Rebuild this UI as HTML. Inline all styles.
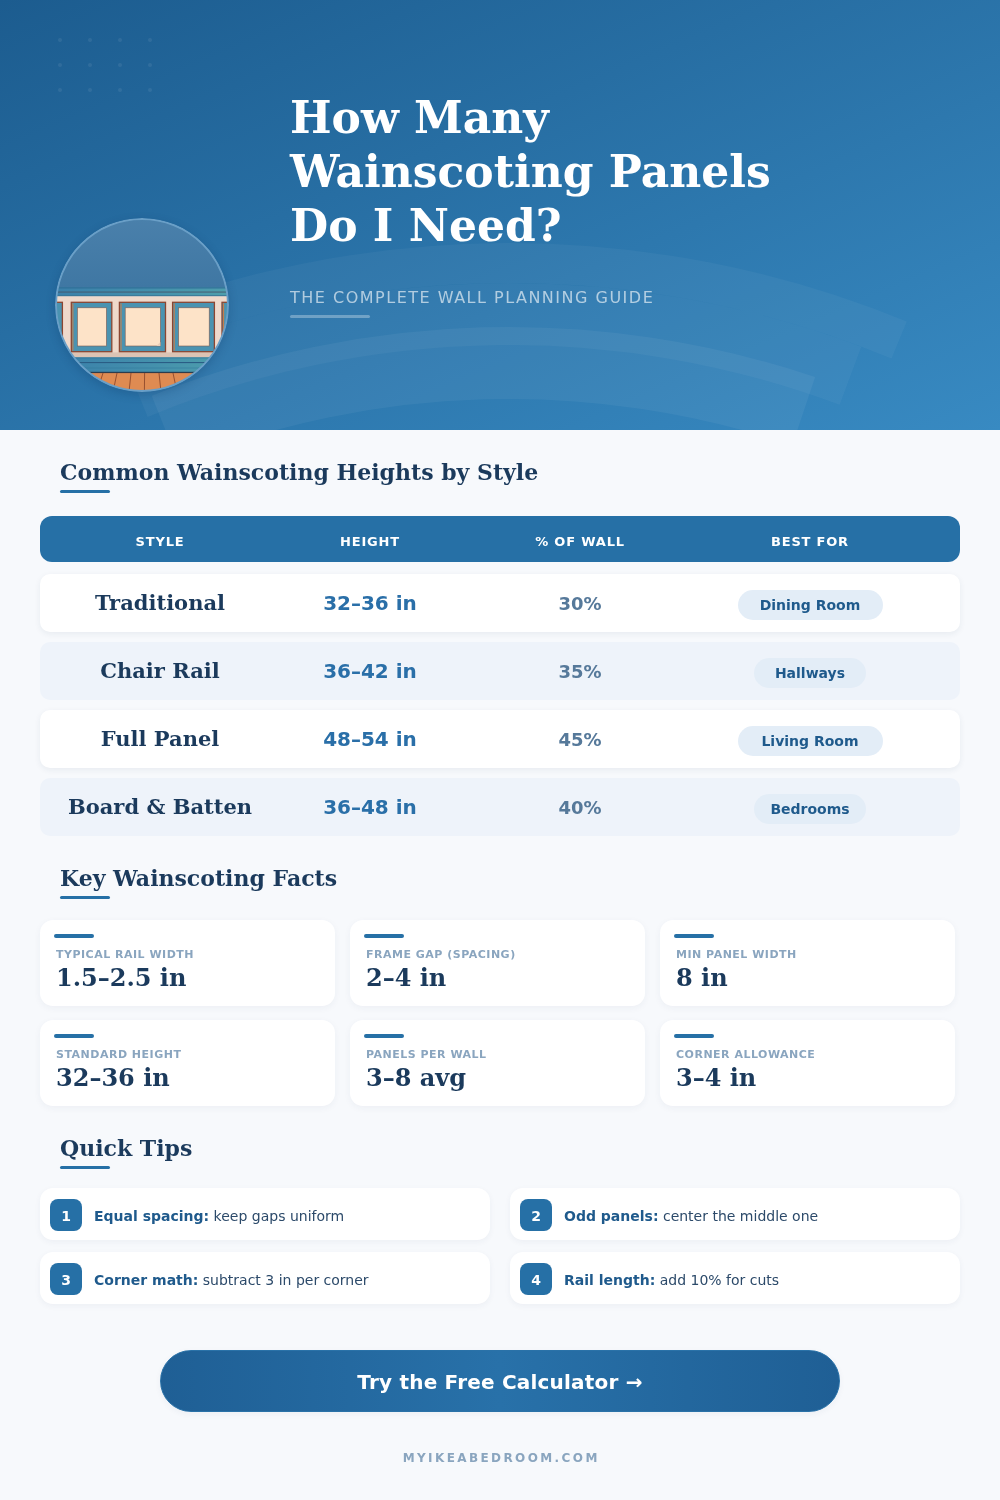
<!DOCTYPE html>
<html lang="en">
<head>
<meta charset="utf-8">
<title>How Many Wainscoting Panels Do I Need?</title>
<style>
*{box-sizing:border-box;margin:0;padding:0}
html,body{width:1000px;height:1500px;overflow:hidden}
body{position:relative;background:#f7f9fc;font-family:"DejaVu Sans","Liberation Sans",sans-serif;color:#1b3a5c}
.serif{font-family:"DejaVu Serif","Liberation Serif",serif;font-weight:bold}
.abs{position:absolute}
/* header */
#hero{position:absolute;left:0;top:0;width:1000px;height:430px;overflow:hidden;
 background:linear-gradient(to bottom right,#1c5c8f 0%,#388ac2 100%)}
#hero svg.bg{position:absolute;left:0;top:0}
#title{position:absolute;left:290px;top:91px;font-size:44px;line-height:54px;color:#fff;white-space:nowrap}
#sub{position:absolute;left:290px;top:288px;font-size:16px;line-height:20px;letter-spacing:1.5px;color:rgba(255,255,255,.62);white-space:nowrap}
#subline{position:absolute;left:290px;top:315px;width:80px;height:3px;border-radius:2px;background:rgba(255,255,255,.3)}
#circle{position:absolute;left:55px;top:218px;width:174px;height:174px;border-radius:50%;box-shadow:0 3px 10px rgba(10,40,80,.22)}
/* section heads */
.sh{position:absolute;left:60px;font-size:22px;line-height:28px;color:#1b3a5c;white-space:nowrap}
.ul{position:absolute;left:60px;width:50px;height:3px;margin-top:1.4px;border-radius:2px;background:#2670a6}
/* table */
#thead{position:absolute;left:40px;top:516px;width:920px;height:46px;border-radius:12px;background:#2670a6}
.th{position:absolute;top:0;width:200px;margin-left:-100px;text-align:center;line-height:52px;font-size:13px;font-weight:bold;letter-spacing:.8px;color:#fff}
.row{position:absolute;left:40px;width:920px;height:58px;border-radius:10px}
.row.w{background:#fff;box-shadow:0 2px 6px rgba(30,58,92,.07)}
.row.b{background:#eef3fa}
.c{position:absolute;top:0;width:260px;margin-left:-130px;text-align:center;white-space:nowrap;line-height:58px}
.c1{left:120px;font-size:21px;color:#1b3a5c}
.c2{left:330px;font-size:20px;font-weight:bold;color:#2a6fa8}
.c3{left:540px;font-size:18px;font-weight:bold;color:#56799a;line-height:60px}
.c4{left:770px}
.pill{display:inline-block;height:30px;line-height:30px;border-radius:15px;background:#e3edf7;color:#1f5a8c;font-size:14px;font-weight:bold;padding:0;text-align:center;width:145px;vertical-align:middle;position:relative;top:1px}
/* fact cards */
.card{position:absolute;width:295px;height:86px;border-radius:13px;background:#fff;box-shadow:0 2px 7px rgba(30,58,92,.05)}
.card i{position:absolute;left:14px;top:14px;width:40px;height:4px;border-radius:2px;background:#2670a6}
.card b{position:absolute;left:16px;top:27px;font-size:11px;line-height:16px;letter-spacing:.5px;color:#8aa5bf;white-space:nowrap}
.card span{position:absolute;left:16px;top:41px;font-size:24px;line-height:34px;color:#1b3a5c;white-space:nowrap}
/* tips */
.tip{position:absolute;width:450px;height:52px;border-radius:13px;background:#fff;box-shadow:0 2px 6px rgba(30,58,92,.05)}
.tip i{position:absolute;left:10px;top:11px;width:32px;height:32px;border-radius:8px;background:#2670a6;color:#fff;font-style:normal;font-weight:bold;font-size:14px;line-height:34px;text-align:center}
.tip p{position:absolute;left:54px;top:0;line-height:56px;font-size:14px;color:#2c4a6a;white-space:nowrap}
.tip p b{color:#1f5a8c}
/* cta */
#cta{position:absolute;left:160px;top:1350px;width:680px;height:62px;border-radius:31px;border:1.5px solid #2a72a8;
 background:linear-gradient(90deg,#1f5f95 0%,#2871a9 50%,#1f5f95 100%);color:#fff;font-weight:bold;font-size:20px;letter-spacing:.2px;text-align:center;line-height:62px;box-shadow:0 2px 6px rgba(30,58,92,.05)}
#foot{position:absolute;left:0;top:1450px;width:1000px;padding-left:2.4px;text-align:center;font-size:12px;line-height:16px;font-weight:bold;letter-spacing:2.4px;color:#8aa5bf}
</style>
</head>
<body>
<div id="hero">
<svg class="bg" width="1000" height="430" viewBox="0 0 1000 430">
<g fill="#fff" fill-opacity=".075"><circle cx="60" cy="40" r="2"/><circle cx="90" cy="40" r="2"/><circle cx="120" cy="40" r="2"/><circle cx="150" cy="40" r="2"/><circle cx="60" cy="65" r="2"/><circle cx="90" cy="65" r="2"/><circle cx="120" cy="65" r="2"/><circle cx="150" cy="65" r="2"/><circle cx="60" cy="90" r="2"/><circle cx="90" cy="90" r="2"/><circle cx="120" cy="90" r="2"/><circle cx="150" cy="90" r="2"/></g>
<path d="M100.3 326.2A1046 1046 0 0 1 906.8 321.6L891.5 358.6A1006 1006 0 0 0 115.9 363.0Z" fill="#fff" fill-opacity="0.04"/>
<path d="M124.0 359.6A1006 1006 0 0 1 861.3 346.7L839.6 404.8A944 944 0 0 0 147.7 416.9Z" fill="#fff" fill-opacity="0.04"/>
<path d="M151.7 395.8A962 962 0 0 1 815.2 377.0L792.3 445.3A890 890 0 0 0 178.5 462.6Z" fill="#fff" fill-opacity="0.05"/>
</svg>
<div id="title" class="serif">How Many<br>Wainscoting Panels<br>Do I Need?</div>
<div id="sub">THE COMPLETE WALL PLANNING GUIDE</div>
<div id="subline"></div>
<svg id="circle" width="174" height="174" viewBox="0 0 174 174">
<defs><clipPath id="cc"><circle cx="87" cy="87" r="86"/></clipPath>
<linearGradient id="wg" x1="0" y1="0" x2="0" y2="1"><stop offset="0" stop-color="#4a80ab"/><stop offset="1" stop-color="#3f77a3"/></linearGradient>
<linearGradient id="rg" x1="0" y1="0" x2="1" y2="0"><stop offset="0" stop-color="#3a80aa"/><stop offset=".55" stop-color="#4490ac"/><stop offset="1" stop-color="#4e9fac"/></linearGradient></defs>
<g clip-path="url(#cc)">
<rect width="174" height="70" fill="url(#wg)"/>
<rect y="69" width="174" height="9.2" fill="url(#rg)"/>
<rect y="69" width="174" height="1.6" fill="#316f99" fill-opacity=".8"/>
<rect y="73.6" width="174" height=".9" fill="#46566a"/>
<rect y="77.2" width="174" height="1" fill="#3a7796"/>
<rect y="78.2" width="174" height="61.4" fill="#efd9cb"/>
<rect y="134.4" width="174" height="5" fill="#dcc3b4"/>
<g fill="#4a93b1" stroke="#8a4632" stroke-width="1.3">
<rect x="-38" y="84.3" width="45.4" height="49.4"/>
<rect x="16.3" y="84.3" width="40.5" height="49.4"/>
<rect x="64.4" y="84.3" width="46.1" height="49.4"/>
<rect x="117.6" y="84.3" width="41.8" height="49.4"/>
<rect x="167" y="84.3" width="40" height="49.4"/>
</g>
<g stroke="#d27c42" stroke-width="1"><path d="M17.9 85.4V132.6M66 85.4V132.6M119.2 85.4V132.6M168.6 85.4V132.6"/></g>
<g fill="#fde3c8" stroke="#7d5a52" stroke-width=".6">
<rect x="22.4" y="89.8" width="29" height="38.2"/>
<rect x="70.2" y="89.8" width="35.2" height="38.2"/>
<rect x="123.6" y="89.8" width="30.6" height="38.2"/>
</g>
<g fill="#e9cdb8"><path d="M101.4 128L105.4 124V128Z"/></g>
<rect y="139.4" width="174" height="15.2" fill="url(#rg)"/>
<rect y="139.4" width="174" height="1" fill="#2f7398" fill-opacity=".7"/>
<rect y="144" width="174" height="1.1" fill="#2a5d85"/>
<rect y="149.6" width="174" height=".8" fill="#35799c" fill-opacity=".7"/>
<rect y="154.4" width="174" height="20" fill="#df8b52"/>
<rect y="153.8" width="174" height="1.3" fill="#2e3c4c"/>
<g stroke="#8f4a2c" stroke-width=".9"><path d="M48 155L42 174M62 155L58 174M76 155L74 174M89.6 155L89.4 174M104 155L106 174M118 155L122 174"/></g>
</g>
<circle cx="87" cy="87" r="86" fill="none" stroke="#6a9fc7" stroke-width="2"/>
</svg>
</div>

<div class="sh serif" style="top:458px">Common Wainscoting Heights by Style</div>
<div class="ul" style="top:489px"></div>

<div id="thead">
 <div class="th" style="left:120px">STYLE</div>
 <div class="th" style="left:330px">HEIGHT</div>
 <div class="th" style="left:540px">% OF WALL</div>
 <div class="th" style="left:770px">BEST FOR</div>
</div>
<div class="row w" style="top:574px"><div class="c c1 serif">Traditional</div><div class="c c2">32–36 in</div><div class="c c3">30%</div><div class="c c4"><span class="pill">Dining Room</span></div></div>
<div class="row b" style="top:642px"><div class="c c1 serif">Chair Rail</div><div class="c c2">36–42 in</div><div class="c c3">35%</div><div class="c c4"><span class="pill" style="width:112px">Hallways</span></div></div>
<div class="row w" style="top:710px"><div class="c c1 serif">Full Panel</div><div class="c c2">48–54 in</div><div class="c c3">45%</div><div class="c c4"><span class="pill">Living Room</span></div></div>
<div class="row b" style="top:778px"><div class="c c1 serif">Board &amp; Batten</div><div class="c c2">36–48 in</div><div class="c c3">40%</div><div class="c c4"><span class="pill" style="width:112px">Bedrooms</span></div></div>

<div class="sh serif" style="top:864px">Key Wainscoting Facts</div>
<div class="ul" style="top:895px"></div>

<div class="card" style="left:40px;top:920px"><i></i><b>TYPICAL RAIL WIDTH</b><span class="serif">1.5–2.5 in</span></div>
<div class="card" style="left:350px;top:920px"><i></i><b>FRAME GAP (SPACING)</b><span class="serif">2–4 in</span></div>
<div class="card" style="left:660px;top:920px"><i></i><b>MIN PANEL WIDTH</b><span class="serif">8 in</span></div>
<div class="card" style="left:40px;top:1020px"><i></i><b>STANDARD HEIGHT</b><span class="serif">32–36 in</span></div>
<div class="card" style="left:350px;top:1020px"><i></i><b>PANELS PER WALL</b><span class="serif">3–8 avg</span></div>
<div class="card" style="left:660px;top:1020px"><i></i><b>CORNER ALLOWANCE</b><span class="serif">3–4 in</span></div>

<div class="sh serif" style="top:1134px">Quick Tips</div>
<div class="ul" style="top:1165px"></div>

<div class="tip" style="left:40px;top:1188px"><i>1</i><p><b>Equal spacing:</b> keep gaps uniform</p></div>
<div class="tip" style="left:510px;top:1188px"><i>2</i><p><b>Odd panels:</b> center the middle one</p></div>
<div class="tip" style="left:40px;top:1252px"><i>3</i><p><b>Corner math:</b> subtract 3 in per corner</p></div>
<div class="tip" style="left:510px;top:1252px"><i>4</i><p><b>Rail length:</b> add 10% for cuts</p></div>

<div id="cta">Try the Free Calculator →</div>
<div id="foot">MYIKEABEDROOM.COM</div>
</body>
</html>
